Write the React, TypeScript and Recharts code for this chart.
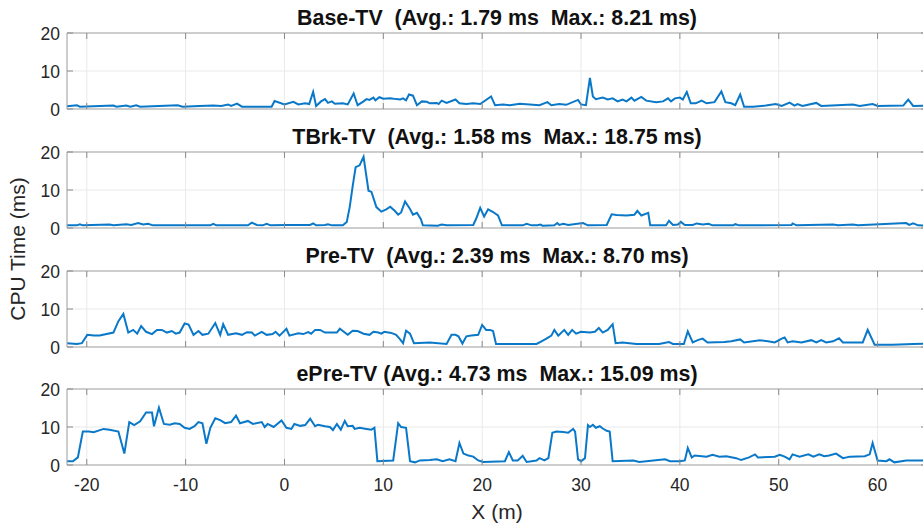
import React from "react";
import { LineChart, Line, XAxis, YAxis, CartesianGrid, ReferenceLine } from "recharts";

// x (m), CPU time (ms) vertices
const BASE_TV: [number, number][] = [
  [-22, 0.7], [-21, 1.0], [-20.7, 0.6], [-17.3, 0.9], [-17, 0.6], [-16, 0.9], [-15.6, 0.6],
  [-15, 1.0], [-14.6, 0.6], [-10.8, 1.0], [-10.3, 0.6], [-8.6, 0.8], [-7.2, 0.9], [-6.4, 0.8],
  [-5.7, 1.2], [-5.4, 0.8], [-4.8, 1.4], [-4.3, 0.6], [-1.3, 0.6], [-1.0, 2.1], [0, 1.2],
  [0.9, 1.9], [1.4, 1.2], [2.1, 1.5], [2.5, 1.3], [2.9, 4.5], [3.2, 0.8], [3.7, 2.0], [4.1, 2.6],
  [4.4, 1.6], [4.8, 2.0], [5.1, 1.4], [5.9, 1.5], [6.4, 1.2], [7.0, 4.1], [7.4, 1.0], [8.0, 2.0],
  [8.3, 2.6], [8.6, 2.4], [9.0, 3.0], [9.2, 2.3], [9.6, 3.1], [10.0, 2.7], [10.7, 2.8], [11.3, 2.6],
  [11.7, 2.5], [12.0, 2.8], [12.3, 2.3], [12.6, 3.8], [13.0, 3.5], [13.4, 1.0], [13.9, 2.0],
  [14.4, 1.9], [14.7, 1.5], [15.4, 1.6], [15.6, 1.3], [15.9, 2.2], [16.4, 1.6], [17.3, 2.5],
  [17.7, 1.5], [18.4, 1.3], [19.1, 1.5], [19.8, 1.3], [20.9, 3.3], [21.3, 1.0], [22.1, 1.2],
  [22.8, 1.0], [23.8, 1.4], [25.8, 1.0], [26.6, 1.8], [27.0, 1.0], [27.8, 1.3], [28.5, 1.1],
  [29.7, 2.4], [30.0, 1.2], [30.5, 1.0], [30.9, 8.21], [31.2, 3.3], [31.5, 2.6], [32.2, 3.0],
  [32.7, 2.5], [33.2, 2.8], [33.7, 2.0], [34.2, 2.5], [34.6, 2.0], [35.1, 3.0], [35.4, 2.2],
  [36.1, 3.2], [36.6, 2.2], [37.6, 1.8], [38.3, 2.0], [38.8, 2.8], [39.1, 2.0], [39.5, 2.8],
  [40.0, 3.0], [40.3, 2.5], [40.7, 4.5], [41.1, 1.5], [41.6, 1.5], [42.2, 2.2], [42.7, 1.5],
  [43.5, 1.8], [44.2, 4.6], [44.6, 1.8], [45.2, 1.5], [45.6, 1.0], [46.1, 3.8], [46.5, 0.6],
  [47.4, 0.6], [48.7, 0.9], [49.7, 1.3], [50.3, 0.8], [51.1, 1.7], [51.6, 0.9], [51.9, 1.3],
  [52.4, 0.8], [53.8, 1.6], [54.3, 0.8], [57.5, 1.2], [58.2, 0.8], [59.5, 1.3], [60.0, 0.8],
  [62.6, 0.9], [63.1, 2.5], [63.6, 0.8], [65, 0.9],
];

const TBRK_TV: [number, number][] = [
  [-22, 0.7], [-21, 0.7], [-20.7, 1.0], [-20.4, 0.7], [-17.7, 0.9], [-17.3, 0.7], [-16, 1.0],
  [-15.5, 0.8], [-14.8, 1.3], [-14.3, 0.9], [-13.8, 1.1], [-13.3, 0.7], [-7.5, 0.7], [-7.2, 1.1],
  [-6.9, 0.7], [-3.7, 0.7], [-3.3, 1.4], [-2.8, 0.8], [-2.2, 0.7], [-1.8, 1.1], [-1.4, 0.7],
  [0.2, 0.8], [2.6, 0.8], [2.9, 1.2], [3.2, 0.7], [4.1, 0.8], [4.4, 1.0], [4.8, 0.7], [5.9, 0.7],
  [6.3, 1.6], [6.6, 5.5], [6.9, 11.0], [7.2, 16.0], [7.6, 16.5], [8.0, 18.75], [8.5, 9.8],
  [8.8, 9.5], [9.3, 5.5], [9.8, 4.3], [10.3, 4.9], [10.7, 5.6], [11.2, 4.4], [11.5, 3.5],
  [11.8, 4.1], [12.2, 7.0], [12.7, 5.0], [13.0, 3.5], [13.4, 4.0], [13.8, 2.3], [14.0, 0.7],
  [15.5, 0.6], [15.9, 0.9], [16.4, 0.7], [19.1, 0.8], [19.4, 2.5], [19.8, 5.3], [20.2, 3.0],
  [20.6, 4.9], [21.1, 4.2], [21.6, 3.3], [22.0, 0.7], [24.1, 0.7], [24.5, 1.1], [25.0, 0.7],
  [25.6, 0.7], [25.9, 0.9], [26.1, 0.6], [27.3, 0.7], [27.6, 1.3], [27.8, 0.8], [28.2, 1.1],
  [28.7, 0.8], [30.2, 1.3], [30.7, 0.7], [32.6, 0.8], [33.1, 3.6], [33.6, 3.4], [34.6, 3.3],
  [35.4, 3.5], [35.7, 4.5], [36.1, 3.3], [36.8, 4.0], [37.0, 0.7], [38.6, 0.7], [38.9, 1.9],
  [39.3, 0.8], [39.8, 0.9], [40.1, 1.6], [40.5, 0.8], [41.3, 0.8], [41.7, 1.2], [42.3, 0.9],
  [42.9, 1.1], [43.3, 0.7], [45.4, 0.7], [45.6, 1.0], [46.0, 0.7], [51.3, 0.8], [51.4, 1.2],
  [51.8, 0.7], [55.5, 0.9], [56.0, 0.7], [57.5, 0.9], [58.0, 0.7], [62.9, 1.3], [63.2, 0.8],
  [63.6, 1.2], [64.1, 0.7], [65, 0.6],
];

const PRE_TV: [number, number][] = [
  [-22, 1.0], [-21, 0.8], [-20.5, 1.0], [-19.95, 3.2], [-19.3, 3.0], [-18.7, 3.0], [-17.3, 3.8],
  [-16.8, 6.8], [-16.3, 8.7], [-15.8, 3.8], [-15.3, 4.5], [-14.9, 3.5], [-14.5, 5.5], [-14.0, 4.0],
  [-13.4, 3.4], [-12.9, 4.5], [-12.4, 4.5], [-11.9, 3.8], [-11.4, 4.2], [-11.0, 3.5], [-10.6, 3.8],
  [-10.1, 6.2], [-9.7, 5.9], [-9.2, 3.2], [-8.7, 4.2], [-8.3, 3.2], [-7.7, 3.5], [-7.0, 6.3],
  [-6.5, 3.2], [-6.2, 6.0], [-5.7, 3.2], [-4.9, 3.6], [-4.3, 3.2], [-3.8, 3.9], [-3.3, 3.8],
  [-3.0, 3.0], [-2.3, 4.0], [-1.8, 3.2], [-1.2, 3.4], [-0.9, 4.0], [-0.5, 3.0], [0.2, 4.8],
  [0.5, 3.0], [1.4, 3.6], [1.9, 3.4], [2.4, 3.9], [2.7, 3.5], [3.1, 4.5], [3.6, 4.5], [4.1, 3.8],
  [5.3, 3.8], [5.6, 4.8], [6.1, 3.8], [6.4, 3.2], [6.9, 4.3], [7.4, 4.2], [8.0, 3.5], [8.6, 3.2],
  [9.0, 4.0], [9.5, 3.8], [9.8, 3.5], [10.1, 4.0], [10.8, 3.7], [11.3, 3.2], [11.7, 2.0],
  [12.0, 1.0], [12.3, 4.3], [12.7, 3.5], [13.1, 1.0], [14.7, 1.2], [16.4, 0.8], [16.9, 3.2],
  [17.3, 3.2], [17.6, 2.8], [18.0, 0.9], [18.4, 2.8], [18.9, 3.0], [19.6, 3.2], [20.0, 5.8],
  [20.4, 4.5], [20.8, 4.5], [21.1, 4.2], [21.4, 0.8], [25.5, 0.8], [26.0, 1.5], [26.5, 2.2],
  [27.0, 3.0], [27.3, 4.5], [27.7, 3.0], [28.3, 4.5], [28.7, 3.2], [29.1, 4.5], [29.5, 3.5],
  [30.0, 4.0], [30.9, 3.8], [31.4, 4.0], [31.8, 5.0], [32.2, 3.8], [32.7, 4.5], [33.2, 6.0],
  [33.5, 1.0], [34.2, 1.2], [35.6, 0.8], [37.9, 0.8], [38.9, 1.3], [39.3, 0.8], [40.4, 0.8],
  [40.8, 4.1], [41.3, 1.2], [41.8, 1.8], [42.3, 2.2], [42.8, 1.2], [44.5, 1.3], [45.2, 1.5],
  [46.1, 2.0], [46.5, 1.2], [48.1, 1.8], [48.9, 1.5], [49.6, 1.2], [50.3, 2.2], [50.6, 2.5],
  [50.9, 1.2], [51.4, 1.5], [52.3, 1.2], [53.3, 1.8], [53.8, 1.2], [54.3, 1.8], [54.8, 1.2],
  [55.5, 1.5], [56.1, 2.3], [56.5, 1.2], [58.5, 1.2], [59.0, 4.5], [59.7, 0.6], [61.5, 0.6],
  [63.6, 0.8], [65, 0.9],
];

const EPRE_TV: [number, number][] = [
  [-22, 1.0], [-21.4, 1.0], [-20.9, 2.0], [-20.4, 8.8], [-19.8, 8.8], [-19.3, 8.6], [-18.3, 9.5],
  [-17.7, 9.3], [-16.8, 8.8], [-16.2, 3.0], [-15.7, 11.3], [-15.2, 10.5], [-14.6, 11.5],
  [-14.0, 13.8], [-13.4, 13.8], [-13.2, 10.2], [-12.7, 15.09], [-12.2, 10.8], [-11.6, 10.6],
  [-11.1, 11.0], [-10.6, 10.8], [-10.1, 9.8], [-9.6, 9.5], [-9.1, 10.2], [-8.7, 11.3], [-8.3, 11.0],
  [-7.9, 5.6], [-7.5, 9.8], [-7.0, 12.3], [-6.5, 11.8], [-6.0, 11.0], [-5.4, 11.3], [-4.9, 13.0],
  [-4.5, 11.0], [-3.7, 11.6], [-3.2, 10.8], [-2.3, 11.3], [-2.0, 10.0], [-1.7, 10.8], [-1.1, 10.0],
  [-0.3, 11.7], [0.2, 9.8], [0.7, 9.5], [1.0, 10.8], [1.6, 10.3], [2.1, 10.5], [2.6, 12.2],
  [3.1, 10.2], [3.4, 10.6], [4.1, 10.2], [4.6, 10.0], [4.9, 9.2], [5.3, 10.8], [5.7, 9.3],
  [6.1, 11.6], [6.4, 10.2], [6.9, 10.3], [7.1, 9.5], [7.6, 9.8], [8.3, 9.5], [8.8, 9.3],
  [9.1, 9.8], [9.4, 1.0], [11.0, 1.2], [11.5, 11.0], [11.8, 10.0], [12.3, 9.8], [12.7, 1.0],
  [13.2, 0.7], [13.7, 1.2], [14.7, 1.3], [15.4, 1.5], [16.0, 1.0], [16.7, 1.5], [17.3, 1.0],
  [17.7, 5.8], [18.1, 3.0], [18.6, 2.5], [19.1, 2.2], [19.6, 1.2], [20.1, 0.8], [22.3, 1.0],
  [22.7, 3.4], [23.1, 1.2], [23.6, 1.2], [24.1, 2.4], [24.5, 0.8], [25.5, 1.2], [25.8, 1.8],
  [26.3, 1.2], [26.7, 1.8], [27.1, 8.5], [27.5, 8.8], [28.2, 8.7], [28.7, 8.5], [29.2, 9.5],
  [29.4, 8.8], [29.7, 1.5], [30.0, 1.0], [30.4, 1.8], [30.7, 10.5], [30.9, 10.0], [31.2, 10.6],
  [31.5, 9.8], [31.9, 10.2], [32.2, 9.6], [32.6, 9.0], [32.9, 8.8], [33.2, 1.0], [35.3, 1.2],
  [35.9, 0.8], [38.5, 1.5], [39.0, 1.0], [40.0, 1.0], [40.5, 1.2], [40.8, 4.5], [41.2, 2.0],
  [41.5, 2.5], [42.7, 2.2], [43.3, 2.7], [44.0, 2.2], [44.7, 2.3], [45.7, 1.8], [46.2, 1.3],
  [47.0, 2.0], [47.6, 2.8], [47.9, 2.0], [49.6, 2.2], [50.1, 2.7], [50.6, 2.2], [51.1, 1.5],
  [51.4, 2.8], [52.1, 2.2], [53.0, 2.8], [53.5, 2.2], [54.1, 2.8], [54.6, 2.3], [55.1, 2.5],
  [55.8, 3.0], [56.5, 1.8], [57.2, 2.2], [58.7, 2.3], [59.2, 2.8], [59.5, 5.8], [60.0, 1.2],
  [60.9, 1.0], [61.2, 1.5], [61.7, 0.7], [62.9, 1.2], [65, 1.2],
];

const TITLES = [
  "Base-TV  (Avg.: 1.79 ms  Max.: 8.21 ms)",
  "TBrk-TV  (Avg.: 1.58 ms  Max.: 18.75 ms)",
  "Pre-TV  (Avg.: 2.39 ms  Max.: 8.70 ms)",
  "ePre-TV (Avg.: 4.73 ms  Max.: 15.09 ms)",
];
const SERIES = [BASE_TV, TBRK_TV, PRE_TV, EPRE_TV];

const X_TICKS = [-20, -10, 0, 10, 20, 30, 40, 50, 60];
const Y_TICKS = [0, 10, 20];
const X_DOMAIN: [number, number] = [-22, 65];
const Y_DOMAIN: [number, number] = [0, 20];

const FONT = '"Liberation Sans", Arial, Helvetica, sans-serif';
const CHART_W = 927; // right edge is cut off by the 923px frame
const AXIS_W = 67;
const PLOT_W = CHART_W - AXIS_W;
const PLOT_H = 76;
const PLOT_TOPS = [33, 152, 271, 389];
const MARGIN_TOP = 33;
const TICK_LEN = 6;
const BORDER = "#a6a6a6";
const TICK_COLOR = "#8a8a8a";
const TEXT = "#262626";
const LINE_COLOR = "#0a78c8";

function XTick(props: any) {
  const { x, y, payload, showLabel } = props;
  return (
    <g>
      <line x1={x} y1={y} x2={x} y2={y - TICK_LEN} stroke={TICK_COLOR} />
      <line x1={x} y1={y - PLOT_H} x2={x} y2={y - PLOT_H + TICK_LEN} stroke={TICK_COLOR} />
      {showLabel && (
        <text x={x} y={y + 25.5} textAnchor="middle" fontSize={17.5} fontFamily={FONT} fill={TEXT}>
          {payload.value}
        </text>
      )}
    </g>
  );
}

function YTick(props: any) {
  const { x, y, payload } = props;
  return (
    <g>
      <line x1={x} y1={y} x2={x + TICK_LEN} y2={y} stroke={TICK_COLOR} />
      <line x1={x + PLOT_W} y1={y} x2={x + PLOT_W - TICK_LEN} y2={y} stroke={TICK_COLOR} />
      <text x={x - 7} y={y + 7.3} textAnchor="end" fontSize={17.5} fontFamily={FONT} fill={TEXT}>
        {payload.value}
      </text>
    </g>
  );
}

function Panel({ idx }: { idx: number }) {
  const last = idx === SERIES.length - 1;
  const bottom = last ? 526 - (PLOT_TOPS[idx] + PLOT_H) : 14;
  const height = MARGIN_TOP + PLOT_H + bottom;
  const rows = SERIES[idx].map(([x, y]) => ({ x, y }));
  return (
    <div style={{ position: "absolute", left: 0, top: PLOT_TOPS[idx] - MARGIN_TOP }}>
      <LineChart width={CHART_W} height={height} data={rows} margin={{ top: MARGIN_TOP, right: 0, bottom: 0, left: 0 }}>
        <CartesianGrid stroke="#e9e9e9" />
        <XAxis
          dataKey="x"
          type="number"
          domain={X_DOMAIN}
          ticks={X_TICKS}
          interval={0}
          allowDataOverflow
          height={bottom}
          tickSize={0}
          tickMargin={0}
          tickLine={false}
          axisLine={{ stroke: BORDER }}
          tick={(p: any) => <XTick {...p} showLabel={last} />}
        />
        <YAxis
          type="number"
          domain={Y_DOMAIN}
          ticks={Y_TICKS}
          interval={0}
          allowDataOverflow
          width={AXIS_W}
          tickSize={0}
          tickMargin={0}
          tickLine={false}
          axisLine={{ stroke: BORDER }}
          tick={(p: any) => <YTick {...p} />}
        />
        <ReferenceLine y={20} stroke={BORDER} />
        <Line
          dataKey="y"
          type="linear"
          stroke={LINE_COLOR}
          strokeWidth={2}
          dot={false}
          activeDot={false}
          isAnimationActive={false}
        />
      </LineChart>
      <div
        style={{
          position: "absolute",
          left: AXIS_W,
          width: 860,
          top: MARGIN_TOP - 25.5,
          textAlign: "center",
          whiteSpace: "pre",
          fontFamily: FONT,
          fontWeight: "bold",
          fontSize: 21.4,
          lineHeight: "21px",
          color: "#111",
        }}
      >
        {TITLES[idx]}
      </div>
    </div>
  );
}

export default function App() {
  return (
    <div
      style={{
        position: "absolute",
        left: 0,
        top: 0,
        width: 923,
        height: 526,
        overflow: "hidden",
        background: "#fff",
        fontFamily: FONT,
      }}
    >
      {SERIES.map((_, i) => (
        <Panel key={i} idx={i} />
      ))}
      <div
        style={{
          position: "absolute",
          left: 18 - 100,
          top: 249 - 12,
          width: 200,
          height: 24,
          lineHeight: "24px",
          textAlign: "center",
          fontSize: 21,
          color: TEXT,
          transform: "rotate(-90deg)",
          whiteSpace: "nowrap",
        }}
      >
        CPU Time (ms)
      </div>
      <div
        style={{
          position: "absolute",
          left: 497 - 60,
          width: 120,
          top: 518 - 17.5,
          textAlign: "center",
          fontSize: 21,
          lineHeight: "21px",
          color: TEXT,
          whiteSpace: "nowrap",
        }}
      >
        X (m)
      </div>
    </div>
  );
}
